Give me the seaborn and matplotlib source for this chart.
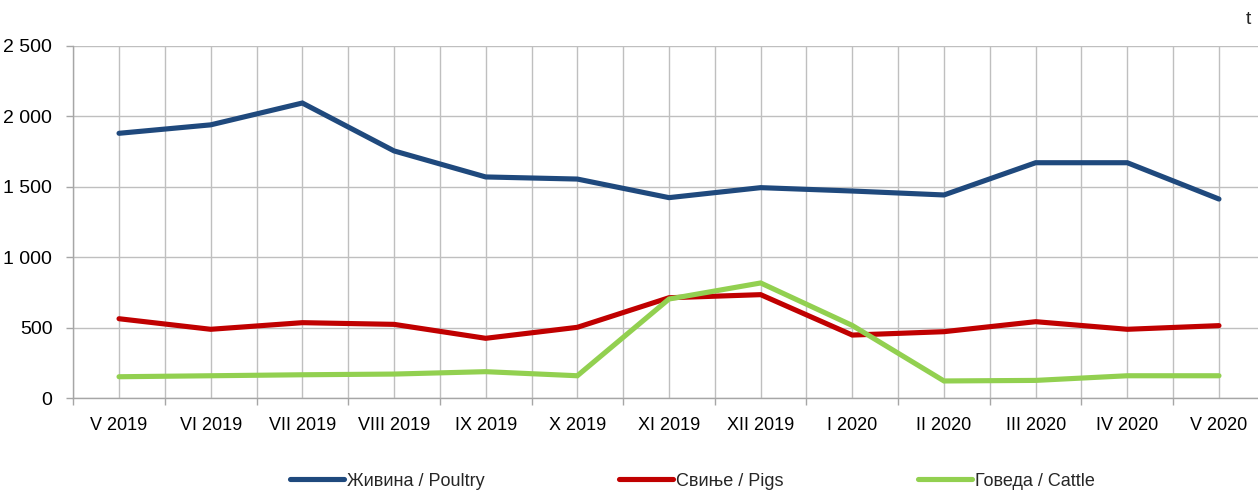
import matplotlib
matplotlib.use("Agg")
import matplotlib.pyplot as plt
import seaborn as sns
import pandas as pd
import numpy as np
from matplotlib.ticker import FuncFormatter, FixedLocator

months = ["V 2019", "VI 2019", "VII 2019", "VIII 2019", "IX 2019", "X 2019",
          "XI 2019", "XII 2019", "I 2020", "II 2020", "III 2020", "IV 2020", "V 2020"]
poultry = [1880, 1940, 2095, 1755, 1570, 1555, 1423, 1494, 1470, 1442, 1671, 1671, 1413]
pigs = [563, 488, 535, 523, 424, 502, 712, 734, 447, 471, 542, 488, 514]
cattle = [151, 158, 165, 170, 187, 158, 703, 817, 515, 121, 125, 158, 158]

series_names = ["Живина / Poultry", "Свиње / Pigs", "Говеда / Cattle"]
colors = ["#1F497D", "#C00000", "#92D050"]

sns.set_theme(style="white")
plt.rcParams['font.family'] = ['Liberation Sans', 'DejaVu Sans']

df = pd.DataFrame({
    "pos": list(range(len(months))) * 3,
    "value": poultry + pigs + cattle,
    "series": [series_names[0]] * len(months) + [series_names[1]] * len(months) + [series_names[2]] * len(months),
})

fig = plt.figure(figsize=(12.58, 4.90), dpi=100)
ax = fig.add_axes([73.2 / 1258, 92 / 490, 1191.6 / 1258, 352 / 490])

LW = 3.7
sns.lineplot(data=df, x="pos", y="value", hue="series", palette=colors,
             hue_order=series_names, linewidth=LW, ax=ax, legend=False, zorder=3)
for l in ax.lines:
    l.set_solid_capstyle("round")
    l.set_solid_joinstyle("miter")

ax.set_xlim(-0.5, len(months) - 0.5)
ax.set_ylim(0, 2500)
ax.set_xlabel("")
ax.set_ylabel("")

ax.xaxis.set_major_locator(FixedLocator(np.arange(len(months))))
ax.set_xticklabels(months)
ax.xaxis.set_minor_locator(FixedLocator(np.arange(-0.5, len(months), 1.0)))
ax.tick_params(axis="x", which="major", length=0, labelsize=13, pad=14, colors="black")
ax.tick_params(axis="x", which="minor", length=5, width=1, color="#A6A6A6", direction="out", bottom=True)

ax.set_yticks(np.arange(0, 2501, 500))
ax.yaxis.set_major_formatter(FuncFormatter(lambda v, p: f"{int(v):,}".replace(",", " ")))
ax.tick_params(axis="y", which="major", length=5, width=1, color="#A6A6A6", direction="out",
               left=True, labelsize=14, pad=10, labelcolor="black")

ax.grid(True, which="major", axis="both", color="#BFBFBF", linewidth=1)
ax.grid(True, which="minor", axis="x", color="#BFBFBF", linewidth=1)
ax.set_axisbelow(True)

for s in ["top", "right"]:
    ax.spines[s].set_visible(False)
for s in ["left", "bottom"]:
    ax.spines[s].set_color("#A6A6A6")
    ax.spines[s].set_linewidth(1)

legend_x = [290, 619, 918]
for name, c, xpx in zip(series_names, colors, legend_x):
    h = plt.Line2D([0], [0], color=c, linewidth=LW, solid_capstyle="round")
    fig.legend([h], [name], loc="center left", bbox_to_anchor=(xpx / 1258, 1 - 481 / 490),
               frameon=False, fontsize=13, handlelength=3.0, handletextpad=0.15,
               borderaxespad=0, borderpad=0)

fig.text(1248 / 1258, 1 - 20 / 490, "t", fontsize=14, ha="center", va="center")

fig.savefig("out.png", dpi=100)
